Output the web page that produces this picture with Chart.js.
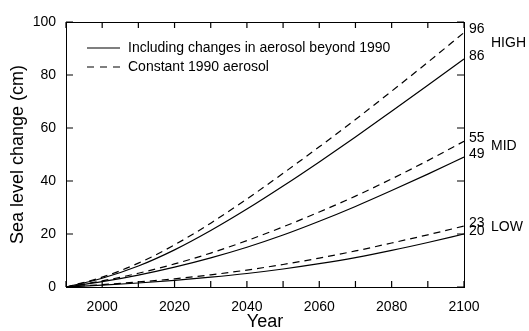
<!DOCTYPE html>
<html>
<head>
<meta charset="utf-8">
<script src="https://cdn.jsdelivr.net/npm/chart.js@4"></script>
<style>
  body { margin: 0; background: #fff; }
  #wrap { width: 529px; height: 331px; }
</style>
</head>
<body>
<div id="wrap"><canvas id="chart"></canvas></div>
<script>
const years = [1990, 2000, 2010, 2020, 2030, 2040, 2050, 2060, 2070, 2080, 2090, 2100];

// sea level change (cm)
const highAerosol  = [0, 3.3, 7.9, 14, 21.3, 29.4, 38.1, 47.2, 56.6, 66.3, 76.1, 86];
const highConstant = [0, 3.7, 9, 15.9, 24.1, 33.2, 42.9, 52.9, 63.2, 73.9, 84.8, 96];
const midAerosol   = [0, 2, 4.5, 7.5, 11, 15, 19.6, 24.8, 30.4, 36.4, 42.6, 49];
const midConstant  = [0, 2.3, 5.2, 8.7, 12.8, 17.5, 22.7, 28.3, 34.3, 40.8, 47.7, 55];
const lowAerosol   = [0, 0.7, 1.5, 2.5, 3.7, 5.1, 6.8, 8.8, 11.1, 13.8, 16.8, 20];
const lowConstant  = [0, 0.9, 1.9, 3.1, 4.6, 6.4, 8.5, 10.9, 13.6, 16.6, 19.7, 23];

const scenarioNames = ["HIGH", "MID", "LOW"];
const legendLabels = ["Including changes in aerosol beyond 1990", "Constant 1990 aerosol"];

const xTicks = { min: 1990, max: 2100, step: 10 };
const yTicks = { min: 0, max: 100, step: 20 };

const font = "'Liberation Sans', Arial, Helvetica, sans-serif";
const ctx = document.getElementById("chart").getContext("2d");

function series(values, dashed) {
    return {
        data: years.map((y, i) => ({ x: y, y: values[i] })),
        borderColor: "#000",
        borderWidth: 1.2,
        borderDash: dashed ? [7, 5] : [],
        pointRadius: 0,
        fill: false,
        cubicInterpolationMode: "monotone"
    };
}

const pairs = [
    [highAerosol, highConstant],
    [midAerosol, midConstant],
    [lowAerosol, lowConstant]
];

const datasets = [];
pairs.forEach(p => {
    datasets.push(series(p[0], false));
    datasets.push(series(p[1], true));
});

// small tick marks pointing into the plot on all four sides
const innerTicks = {
    id: "innerTicks",
    afterDatasetsDraw(chart) {
        const c = chart.ctx;
        const a = chart.chartArea;
        const xs = chart.scales.x;
        const ys = chart.scales.y;
        c.save();
        c.setLineDash([]);
        c.strokeStyle = "#000";
        c.lineWidth = 1.2;
        c.beginPath();
        for (let v = xTicks.min; v <= xTicks.max; v += xTicks.step) {
            const px = xs.getPixelForValue(v);
            c.moveTo(px, a.bottom);
            c.lineTo(px, a.bottom - 6);
            c.moveTo(px, a.top);
            c.lineTo(px, a.top + 6);
        }
        for (let v = yTicks.min; v <= yTicks.max; v += yTicks.step) {
            const py = ys.getPixelForValue(v);
            c.moveTo(a.left, py);
            c.lineTo(a.left + 7, py);
            c.moveTo(a.right, py);
            c.lineTo(a.right - 7, py);
        }
        c.stroke();
        c.restore();
    }
};

// legend inside the plot, top left
const innerLegend = {
    id: "innerLegend",
    afterDatasetsDraw(chart) {
        const c = chart.ctx;
        const left = chart.chartArea.left;
        const top = chart.chartArea.top;
        c.save();
        c.strokeStyle = "#000";
        c.fillStyle = "#000";
        c.lineWidth = 1.2;
        c.font = "14px " + font;
        c.textBaseline = "middle";
        legendLabels.forEach((label, i) => {
            const y = top + 26 + i * 19;
            c.setLineDash(i == 0 ? [] : [7, 6]);
            c.beginPath();
            c.moveTo(left + 21, y);
            c.lineTo(left + 54, y);
            c.stroke();
            c.fillText(label, left + 62, y);
        });
        c.restore();
    }
};

// end values and scenario names on the right
const endLabels = {
    id: "endLabels",
    afterDatasetsDraw(chart) {
        const c = chart.ctx;
        const yScale = chart.scales.y;
        const x = chart.chartArea.right + 5;
        c.save();
        c.fillStyle = "#000";
        c.font = "14px " + font;
        c.textBaseline = "middle";
        pairs.forEach((p, i) => {
            const a = p[0][p[0].length - 1];
            const b = p[1][p[1].length - 1];
            const ya = yScale.getPixelForValue(a) - 3;
            const yb = yScale.getPixelForValue(b) - 3;
            c.fillText(String(a), x, ya);
            c.fillText(String(b), x, yb);
            c.fillText(scenarioNames[i], x + 22, (ya + yb) / 2);
        });
        c.restore();
    }
};

const axisFont = { family: font, size: 14 };
const noGrid = { display: false, drawOnChartArea: false, drawTicks: false };
const frame = { display: true, color: "#000", width: 1 };

new Chart(ctx, {
    type: "line",
    data: { datasets: datasets },
    options: {
        responsive: true,
        maintainAspectRatio: false,
        animation: false,
        layout: { padding: 0 },
        plugins: {
            legend: { display: false },
            tooltip: { enabled: false }
        },
        scales: {
            x: {
                type: "linear",
                position: "bottom",
                min: xTicks.min,
                max: xTicks.max,
                ticks: {
                    stepSize: xTicks.step,
                    color: "#000",
                    font: axisFont,
                    padding: 12,
                    maxRotation: 0,
                    autoSkip: false,
                    callback: v => (v % 20 == 0 ? String(v) : "")
                },
                grid: noGrid,
                border: frame,
                title: {
                    display: true,
                    text: "Year",
                    color: "#000",
                    font: { family: font, size: 18, lineHeight: 1 },
                    padding: 0
                },
                afterFit: s => { s.height = 44; }
            },
            x2: {
                type: "linear",
                position: "top",
                min: xTicks.min,
                max: xTicks.max,
                ticks: { display: false, stepSize: xTicks.step },
                grid: noGrid,
                border: frame,
                afterFit: s => { s.height = 22; }
            },
            y: {
                type: "linear",
                position: "left",
                min: yTicks.min,
                max: yTicks.max,
                ticks: {
                    stepSize: yTicks.step,
                    color: "#000",
                    font: axisFont,
                    padding: 10
                },
                grid: noGrid,
                border: frame,
                title: {
                    display: true,
                    text: "Sea level change (cm)",
                    color: "#000",
                    font: { family: font, size: 18, lineHeight: 1.2 },
                    padding: { top: 7, bottom: 0 }
                },
                afterFit: s => { s.width = 66; }
            },
            y2: {
                type: "linear",
                position: "right",
                min: yTicks.min,
                max: yTicks.max,
                ticks: { display: false, stepSize: yTicks.step },
                grid: noGrid,
                border: frame,
                afterFit: s => { s.width = 65; }
            }
        }
    },
    plugins: [innerTicks, innerLegend, endLabels]
});
</script>
</body>
</html>
